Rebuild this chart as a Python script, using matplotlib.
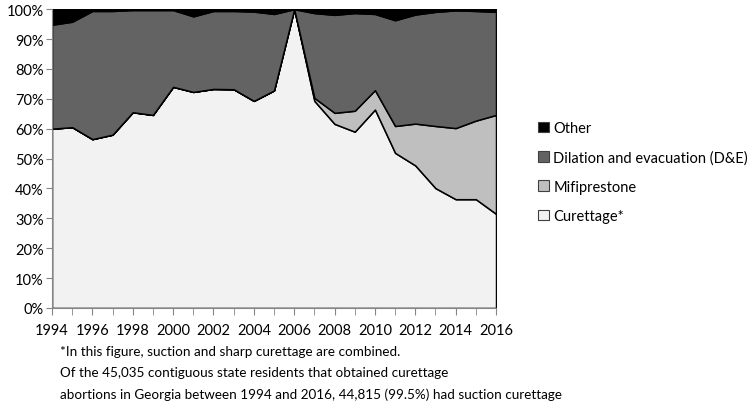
import matplotlib.pyplot as plt
from matplotlib.patches import Patch
from matplotlib.ticker import MultipleLocator, PercentFormatter
import numpy as np

plt.rcParams['font.family'] = ['Lato', 'DejaVu Sans']

years = list(range(1994, 2017))

# percent of abortions by method
curettage = [60.0, 60.5, 56.5, 58.0, 65.5, 64.6, 74.0, 72.3, 73.3, 73.2, 69.3, 72.8,
             100.0, 69.3, 61.6, 59.0, 66.4, 51.9, 47.7, 40.1, 36.4, 36.4, 31.5]
mifepristone = [0, 0, 0, 0, 0, 0, 0, 0, 0, 0, 0, 0,
                0, 1.0, 3.7, 7.0, 6.5, 9.0, 14.0, 20.8, 23.8, 26.3, 33.1]
dilation_evac = [34.8, 35.3, 42.9, 41.4, 34.2, 35.1, 25.7, 25.3, 26.1, 26.2, 29.9, 25.6,
                 0.0, 28.4, 32.8, 32.7, 25.5, 35.4, 36.5, 38.2, 39.4, 36.7, 34.5]
other = [5.2, 4.2, 0.6, 0.6, 0.3, 0.3, 0.3, 2.4, 0.6, 0.6, 0.8, 1.6,
         0.0, 1.3, 1.9, 1.3, 1.6, 3.7, 1.8, 0.9, 0.4, 0.6, 0.9]

labels = ['Curettage*', 'Mifiprestone', 'Dilation and evacuation (D&E)', 'Other']
colors = ['#f2f2f2', '#bfbfbf', '#636363', '#000000']

footnote = ("*In this figure, suction and sharp curettage are combined.\n"
            "Of the 45,035 contiguous state residents that obtained curettage\n"
            "abortions in Georgia between 1994 and 2016, 44,815 (99.5%) had suction curettage")

fig = plt.figure(figsize=(7.55, 4.06), dpi=100)
ax = fig.add_axes([0.0689, 0.239, 0.5881, 0.736])

ax.stackplot(years, curettage, mifepristone, dilation_evac, other,
             colors=colors, edgecolor='black', linewidth=1.1)

ax.set_xlim(1994, 2016)
ax.set_ylim(0, 100)
ax.yaxis.set_major_locator(MultipleLocator(10))
ax.yaxis.set_major_formatter(PercentFormatter(decimals=0))
ax.xaxis.set_major_locator(MultipleLocator(2))
ax.xaxis.set_minor_locator(MultipleLocator(1))

for s in ['top', 'right']:
    ax.spines[s].set_visible(False)
for s in ['left', 'bottom']:
    ax.spines[s].set_color('#868686')
ax.tick_params(axis='both', which='both', color='#868686', labelsize=10.5,
               labelcolor='black', direction='out')
ax.tick_params(axis='x', which='both', length=5, pad=6)
ax.tick_params(axis='y', length=4, pad=2)

handles = [Patch(facecolor=c, edgecolor='#404040', linewidth=0.8) for c in colors]
fig.legend(handles[::-1], labels[::-1], loc='upper left',
           bbox_to_anchor=(0.705, 0.714), frameon=False, fontsize=10.5,
           handlelength=0.75, handleheight=0.75, handletextpad=0.3,
           labelspacing=1.05, borderaxespad=0)

fig.text(0.080, 0.148, footnote, fontsize=9.7, va='top', ha='left', linespacing=1.9)

fig.savefig('out.png', dpi=100)
